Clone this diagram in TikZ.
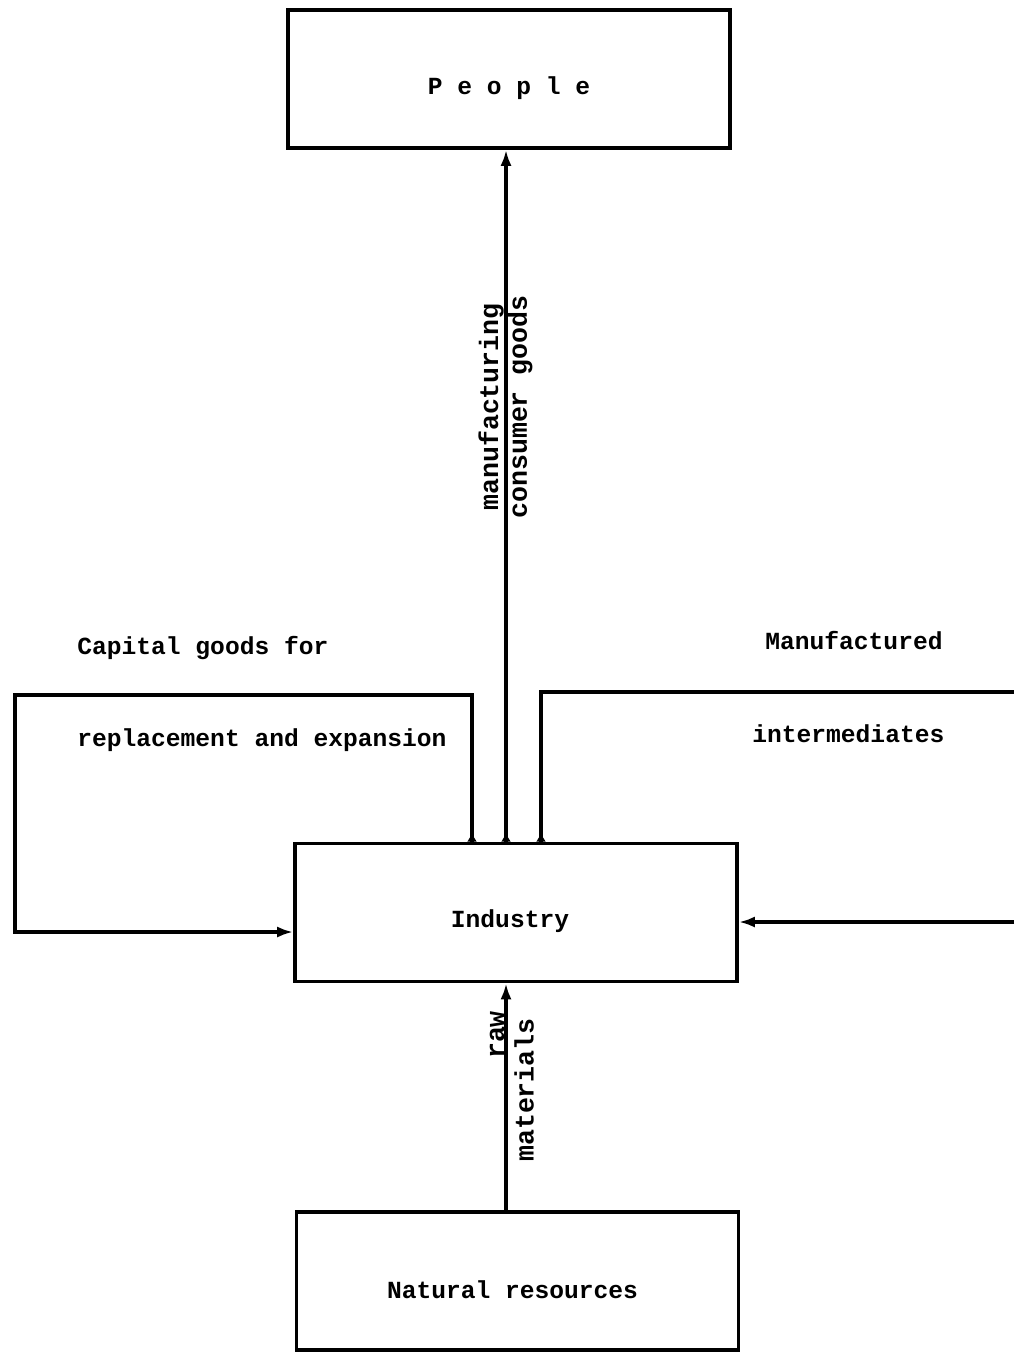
\documentclass[tikz,border=0pt]{standalone}
\usepackage{fontspec}
\setmonofont{Liberation Mono}
\usetikzlibrary{arrows.meta}
\begin{document}
\begin{tikzpicture}[x=0.5pt,y=-0.5pt,
  box/.style={draw,line width=1.8pt,minimum width=221pt,minimum height=69pt,
    inner sep=0pt,font=\fontsize{12.3}{14}\ttfamily\bfseries},
  lbl/.style={inner sep=0pt,font=\fontsize{12.3}{14}\ttfamily\bfseries},
  vlbl/.style={inner sep=0pt,rotate=90,font=\fontsize{13.3}{15}\ttfamily\bfseries},
  flow/.style={line width=1.8pt,-{Latex[length=8pt,width=5.5pt]}},
  line/.style={line width=1.8pt},
  foot/.style={line width=1.8pt,{Latex[reversed,length=4.5pt,width=5pt]}-}]
\useasboundingbox (0,0) rectangle (1014,1352);

% boxes, with the text set a little below the middle
\node[box] (people) at (509,79) {\raisebox{-8pt}[0pt][0pt]{P e o p l e}};
\node[box] (ind) at (516,912.5) {\raisebox{-7.5pt}[0pt][0pt]{Industry}\kern6pt};
\node[box] (nat) at (517.5,1281) {\raisebox{-8.5pt}[0pt][0pt]{Natural resources}\kern5pt};

% corner points of the feedback loops
\coordinate (capx) at (472,0);
\coordinate (midx) at (506,0);
\coordinate (intx) at (541,0);
\coordinate (capTR) at (472,695);
\coordinate (capTL) at (15,695);
\coordinate (capBL) at (15,932);
\coordinate (intTR) at (1014,692);
\coordinate (intBR) at (1014,922);

% consumer goods up to people
\draw[flow] (ind.north -| midx) -- (people.south -| midx);
\draw[foot] (ind.north -| midx) -- ++(0,-20);

% capital goods loop
\draw[foot] (ind.north -| capx) -- ++(0,-20);
\draw[flow] (ind.north -| capx) -- (capTR) -- (capTL) -- (capBL) -- (ind.west |- capBL);

% intermediates loop
\draw[foot] (ind.north -| intx) -- ++(0,-20);
\draw[line] (ind.north -| intx) |- (intTR);
\draw[flow] (intBR) -- (ind.east |- intBR);

% raw materials
\draw[flow] (nat.north -| midx) -- (ind.south -| midx);

% labels
\node[lbl,anchor=west] (capA) at (77,648) {Capital goods for};
\node[lbl,anchor=west] (capB) at (77,740) {replacement and expansion};
\node[lbl,anchor=west] (intA) at (765,641) {Manufactured};
\node[lbl,anchor=west] (intB) at (752,734) {intermediates};
\node[vlbl] (mfg) at (491,407) {manufacturing};
\node[vlbl] (cons) at (520,407) {consumer goods};
\node[vlbl] (raw) at (497,1035) {raw};
\node[vlbl] (mat) at (524,1090) {materials};
\end{tikzpicture}
\end{document}
